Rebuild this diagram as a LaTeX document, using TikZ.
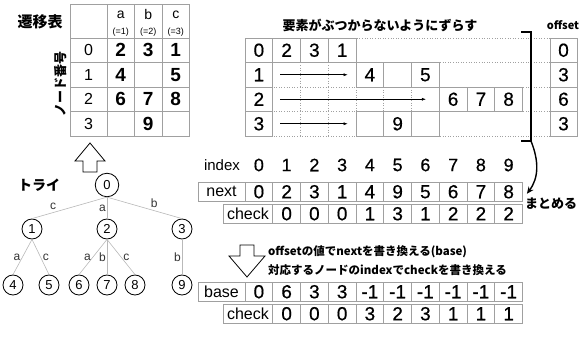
\documentclass[tikz,border=0pt]{standalone}
\usepackage{fontspec}
\setmainfont{Liberation Sans}
\newfontfamily\jp{Noto Sans CJK JP}
\newfontfamily\numfont{Liberation Sans}[FakeBold=0.5]
\usepackage{tikz}
\usetikzlibrary{arrows.meta, positioning}
\usepackage{xcolor}
\definecolor{cellgray}{RGB}{160,160,160}
\definecolor{edgegray}{RGB}{185,185,185}
\newcommand{\fsz}[1]{\fontsize{#1}{#1}\selectfont}
\newcommand{\jpb}[1]{{\jp\bfseries #1}}

\begin{document}
\begin{tikzpicture}[x=1pt, y=-1pt,
  cell/.style={draw=cellgray, line width=0.8pt, fill=white, inner sep=0pt,
    minimum width=27.75pt, minimum height=24.5pt, font=\numfont\fsz{19}},
  lowcell/.style={cell, minimum height=19.5pt},
  labcell/.style={lowcell, font=\fsz{16}},
  tnode/.style={circle, draw, line width=0.8pt, inner sep=0pt, minimum size=20pt, font=\fsz{13}},
  tedge/.style={edgegray, line width=0.6pt},
  elabel/.style={font=\fsz{12}, inner sep=1pt, text=black!80},
  gridline/.style={cellgray, line width=0.6pt, dotted},
  hollow/.style={draw, line width=0.8pt, fill=white, line join=miter},
  bracket/.style={line width=1.4pt}]
  \useasboundingbox (0,0) rectangle (584,347);
  \def\cw{27.75}
  \def\xo{245}

  % Transition table (top left)
  \node[font=\fsz{15}] (tt-title) at (40,22) {\jpb{遷移表}};
  \node[font=\fsz{13}, rotate=90] (tt-side) at (61,84) {\jpb{ノード番号}};
  \node[cell, minimum width=37pt, minimum height=34pt] (tt-h0) at (88.5,21) {};
  \foreach \c/\l/\x in {1/a/120.75, 2/b/148.25, 3/c/175.75} {
    \node[cell, minimum width=27.5pt, minimum height=34pt] (tt-h\c) at (\x,21) {};
    \node[font=\fsz{14}, inner sep=0pt] (tt-l\c) at (\x,15) {\l};
    \node[font=\fsz{9}, inner sep=0pt] (tt-n\c) at (\x,32) {(=\c)};
  }
  \foreach \r/\va/\vb/\vc in {0/2/3/1, 1/4/{}/5, 2/6/7/8, 3/{}/9/{}} {
    \pgfmathsetmacro\y{38+24.5*(\r+0.5)}
    \node[cell, minimum width=37pt, font=\fsz{16}] (tt-\r-0) at (88.5,\y) {\r};
    \node[cell, minimum width=27.5pt, font=\fsz{19}\bfseries] (tt-\r-1) at (120.75,\y) {\va};
    \node[cell, minimum width=27.5pt, font=\fsz{19}\bfseries] (tt-\r-2) at (148.25,\y) {\vb};
    \node[cell, minimum width=27.5pt, font=\fsz{19}\bfseries] (tt-\r-3) at (175.75,\y) {\vc};
  }

  % Trie (bottom left)
  \draw[hollow] (90,143) -- (105,161) -- (97,161) -- (97,172) -- (83,172) -- (83,161) -- (75,161) -- cycle;
  \node[font=\fsz{14}] (trie-title) at (39,185) {\jpb{トライ}};
  \node[tnode, minimum size=23.5pt] (n0) at (107,185) {0};
  \node[tnode] (n1) at (32,229) {1};
  \node[tnode] (n2) at (107,229) {2};
  \node[tnode] (n3) at (182,229) {3};
  \foreach \i/\x in {4/13, 5/49, 6/79, 7/107, 8/135, 9/182}
    \node[tnode] (n\i) at (\x,285) {\i};
  \draw[tedge] (n0.south) -- node[elabel, pos=0.72, above=2pt] {c} (n1.north);
  \draw[tedge] (n0.south) -- node[elabel, midway, left] {a} (n2.north);
  \draw[tedge] (n0.south) -- node[elabel, pos=0.63, above=2pt] {b} (n3.north);
  \draw[tedge] (n1.south) -- node[elabel, midway, left=1pt] {a} (n4.north);
  \draw[tedge] (n1.south) -- node[elabel, midway, right=1pt] {c} (n5.north);
  \draw[tedge] (n2.south) -- node[elabel, midway, left=1pt] {a} (n6.north);
  \draw[tedge] (n2.south) -- node[elabel, midway, left] {b} (n7.north);
  \draw[tedge] (n2.south) -- node[elabel, midway, right=1pt] {c} (n8.north);
  \draw[tedge] (n3.south) -- node[elabel, midway, left] {b} (n9.north);

  % Shifted rows (top right)
  \node[font=\fsz{13}] (shift-title) at (380,25) {\jpb{要素がぶつからないようにずらす}};
  \foreach \y in {38,62.5,87,111.5,136}
    \draw[gridline] (\xo,\y) -- (550,\y);
  \foreach \k in {2,3} {
    \draw[gridline] ({\xo+\cw*\k},62.5) -- ({\xo+\cw*\k},87);
    \draw[gridline] ({\xo+\cw*\k},111.5) -- ({\xo+\cw*\k},136);
  }
  \foreach \k in {2,...,6}
    \draw[gridline] ({\xo+\cw*\k},87) -- ({\xo+\cw*\k},111.5);
  \foreach \r in {0,...,3} {
    \pgfmathsetmacro\y{38+24.5*(\r+0.5)}
    \node[cell] (g-\r-0) at ({\xo+\cw*0.5},\y) {\r};
  }
  \foreach \k/\v in {1/2, 2/3, 3/1}
    \node[cell] (g-0-\k) at ({\xo+\cw*(\k+0.5)},50.25) {\v};
  \foreach \k/\v in {4/4, 5/{}, 6/5}
    \node[cell] (g-1-\k) at ({\xo+\cw*(\k+0.5)},74.75) {\v};
  \foreach \k/\v in {7/6, 8/7, 9/8}
    \node[cell] (g-2-\k) at ({\xo+\cw*(\k+0.5)},99.25) {\v};
  \foreach \k/\v in {4/{}, 5/9, 6/{}}
    \node[cell] (g-3-\k) at ({\xo+\cw*(\k+0.5)},123.75) {\v};
  \draw[-{Latex[length=4pt, width=3pt]}, line width=0.5pt] ([xshift=7pt]g-1-0.east) -- ([xshift=-8pt]g-1-4.west);
  \draw[-{Latex[length=4pt, width=3pt]}, line width=0.5pt] ([xshift=7pt]g-2-0.east) -- ([xshift=-13pt]g-2-7.west);
  \draw[-{Latex[length=4pt, width=3pt]}, line width=0.5pt] ([xshift=7pt]g-3-0.east) -- ([xshift=-8pt]g-3-4.west);

  % Offset column
  \node[font=\fsz{11}] (off-title) at (563,25) {\jpb{offset}};
  \foreach \r/\v in {0/0, 1/3, 2/6, 3/3} {
    \pgfmathsetmacro\y{38+24.5*(\r+0.5)}
    \node[cell, minimum width=27pt] (off-\r) at (563.5,\y) {\v};
  }

  % Merged arrays
  \node[font=\fsz{15}] (idx-title) at (222,165) {index};
  \foreach \k in {0,...,9}
    \node[font=\numfont\fsz{18}] (idx-\k) at ({\xo+\cw*(\k+0.5)},165) {\k};
  \node[labcell, minimum width=47pt] (next-l) at (221.5,191.75) {next};
  \foreach \k/\v in {0/0, 1/2, 2/3, 3/1, 4/4, 5/9, 6/5, 7/6, 8/7, 9/8}
    \node[lowcell] (next-\k) at ({\xo+\cw*(\k+0.5)},191.75) {\v};
  \node[labcell, minimum width=49.75pt] (chk-l) at (247.9,213.75) {check};
  \foreach \k/\v in {1/0, 2/0, 3/0, 4/1, 5/3, 6/1, 7/2, 8/2, 9/2}
    \node[lowcell] (chk-\k) at ({\xo+\cw*(\k+0.5)},213.75) {\v};

  % Bracket and merge arrow
  \coordinate (brk-t) at (531,32);
  \coordinate (brk-b) at (531,141);
  \draw[bracket] ([xshift=-10pt]brk-t) -- (brk-t) -- (brk-b) -- ([xshift=-10pt]brk-b);
  \draw[bracket, -{Stealth[length=7pt, width=6pt]}] (brk-b) .. controls +(8,20) and +(12,-16) .. ([shift={(4,2)}]next-9.east);
  \node[font=\fsz{13}] (merge) at (551,204) {\jpb{まとめる}};

  % Rewrite step
  \draw[hollow] (240,245) -- (254,245) -- (254,256) -- (265,256) -- (247,277) -- (229,256) -- (240,256) -- cycle;
  \node[font=\fsz{11.5}, anchor=west, inner sep=0pt] (step-a) at (268,252) {\jpb{offsetの値でnextを書き換える(base)}};
  \node[font=\fsz{11.5}, anchor=west, inner sep=0pt] (step-b) at (268,270) {\jpb{対応するノードのindexでcheckを書き換える}};

  % Final arrays
  \node[labcell, minimum width=47pt] (base-l) at (221.5,291.75) {base};
  \foreach \k/\v in {0/0, 1/6, 2/3, 3/3, 4/-1, 5/-1, 6/-1, 7/-1, 8/-1, 9/-1}
    \node[lowcell] (base-\k) at ({\xo+\cw*(\k+0.5)},291.75) {\v};
  \node[labcell, minimum width=49.75pt] (chkb-l) at (247.9,313.75) {check};
  \foreach \k/\v in {1/0, 2/0, 3/0, 4/3, 5/2, 6/3, 7/1, 8/1, 9/1}
    \node[lowcell] (chkb-\k) at ({\xo+\cw*(\k+0.5)},313.75) {\v};
\end{tikzpicture}
\end{document}
